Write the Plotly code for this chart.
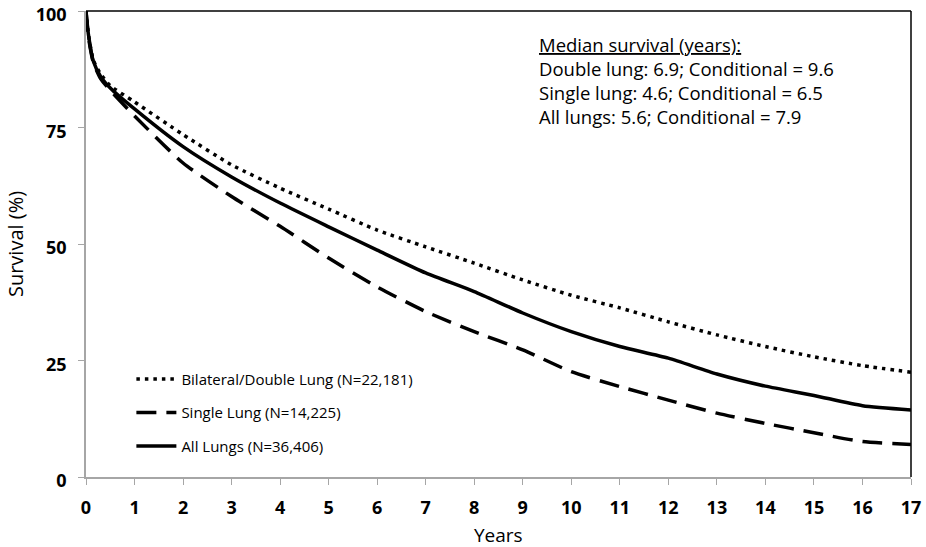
import plotly.graph_objects as go

years = [0, 0.05, 0.15, 0.3, 0.5, 1, 2, 3, 4, 5, 6, 7, 8, 9, 10, 11, 12, 13, 14, 15, 16, 17]
double_lung = [100, 95, 89.5, 86.5, 84, 80.5, 73.5, 67, 62, 57.5, 53, 49.4, 45.9, 42.3, 39, 36.3, 33.3, 30.5, 28, 25.8, 23.9, 22.5]
single_lung = [100, 94.5, 89, 85.5, 83, 77.5, 67.4, 60.2, 53.8, 47, 40.8, 35.5, 31.2, 27.3, 22.6, 19.4, 16.5, 13.7, 11.5, 9.5, 7.6, 7.0]
all_lungs = [100, 95, 89.3, 86, 83.5, 79, 70.9, 64.4, 58.8, 53.7, 48.7, 43.8, 39.8, 35.2, 31.2, 28, 25.5, 22.1, 19.5, 17.5, 15.3, 14.4]

names = ["Bilateral/Double Lung (N=22,181)", "Single Lung (N=14,225)", "All Lungs (N=36,406)"]
x_ticks = list(range(0, 18))
y_ticks = [0, 25, 50, 75, 100]
x_title = "Years"
y_title = "Survival (%)"
note_lines = ["<u>Median survival (years):</u>",
              "Double lung: 6.9; Conditional = 9.6",
              "Single lung: 4.6; Conditional = 6.5",
              "All lungs: 5.6; Conditional = 7.9"]

FONT = "Open Sans"

fig = go.Figure()
fig.add_trace(go.Scatter(x=years, y=double_lung, mode="lines", name=names[0], legendgroup="a",
                         line=dict(color="black", width=3.5, dash="3.5px,5px", shape="spline", smoothing=0.6)))
fig.add_trace(go.Scatter(x=years, y=single_lung, mode="lines", name=names[1], legendgroup="b",
                         line=dict(color="black", width=3.5, dash="20px,10px", shape="spline", smoothing=0.6)))
fig.add_trace(go.Scatter(x=years, y=all_lungs, mode="lines", name=names[2], legendgroup="c",
                         line=dict(color="black", width=3.5, shape="spline", smoothing=0.6)))

fig.update_layout(
    width=926, height=547,
    margin=dict(l=86, r=15, t=11, b=70, autoexpand=False),
    paper_bgcolor="white", plot_bgcolor="white",
    font=dict(family=FONT, color="black"),
    showlegend=True,
    legend=dict(x=0.055, y=0.245, xanchor="left", yanchor="top",
                bgcolor="rgba(0,0,0,0)", font=dict(size=15, family=FONT),
                traceorder="grouped", tracegroupgap=11, itemwidth=40),
    xaxis=dict(range=[0, 17], tickvals=x_ticks, ticktext=[str(v) for v in x_ticks],
               automargin=False,
               showgrid=False, zeroline=False, showline=True, linecolor="#a6a6a6", linewidth=1.5,
               ticks="outside", ticklen=6, tickcolor="#a6a6a6", ticklabelstandoff=8,
               tickfont=dict(size=18, family=FONT, weight="bold")),
    yaxis=dict(range=[0, 100.02], tickvals=y_ticks, ticktext=[str(v) for v in y_ticks],
               automargin=False,
               showgrid=False, zeroline=False, showline=True, linecolor="#a6a6a6", linewidth=1.5,
               ticks="outside", ticklen=6, tickcolor="#a6a6a6", ticklabeloverflow="allow",
               ticklabelstandoff=8, ticklabelshift=4,
               tickfont=dict(size=18, family=FONT, weight="bold")),
)

# top and right plot borders
fig.add_shape(type="line", xref="paper", yref="paper", x0=0, x1=1, y0=1, y1=1,
              line=dict(color="black", width=1.5))
fig.add_shape(type="line", xref="paper", yref="paper", x0=1, x1=1, y0=0, y1=1,
              line=dict(color="black", width=1.5))

# axis titles
fig.add_annotation(xref="paper", yref="paper", x=0.5, y=-0.156, xanchor="center", yanchor="bottom",
                   text=x_title, showarrow=False, font=dict(size=19, family=FONT))
fig.add_annotation(xref="paper", yref="paper", x=-0.086, y=0.5, xanchor="center", yanchor="middle",
                   text=y_title, showarrow=False, textangle=-90, font=dict(size=20, family=FONT))

fig.add_annotation(xref="paper", yref="paper", x=0.547, y=0.959, xanchor="left", yanchor="top",
                   text="<br>".join(note_lines), showarrow=False, align="left",
                   font=dict(size=18.5, family=FONT))

fig.write_html("out.html")
